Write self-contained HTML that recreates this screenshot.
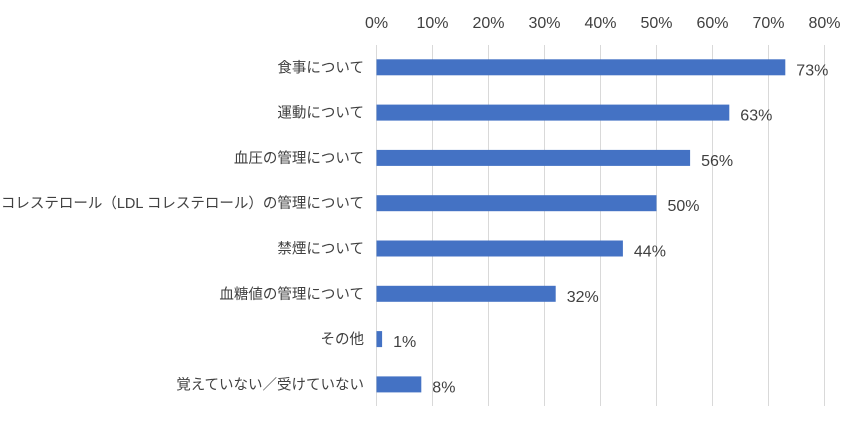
<!DOCTYPE html>
<html><head><meta charset="utf-8"><style>
body{margin:0;background:#fff;}
svg text{font-family:"Liberation Sans","Noto Sans CJK JP",sans-serif;fill:#404040;}
</style></head><body>
<svg id="chart" width="865" height="427" xmlns="http://www.w3.org/2000/svg"></svg>
<script>
const categories=["食事について","運動について","血圧の管理について","コレステロール（LDL コレステロール）の管理について","禁煙について","血糖値の管理について","その他","覚えていない／受けていない"];
const values=[73,63,56,50,44,32,1,8];
const tickLabels=["0%","10%","20%","30%","40%","50%","60%","70%","80%"];
const tickValues=[0,10,20,30,40,50,60,70,80];
const svg=document.getElementById('chart');
const NS="http://www.w3.org/2000/svg";
const x=v=>376.5+v*5.6;
const rowY=i=>67.3+i*45.3;
function mk(t,a){const e=document.createElementNS(NS,t);for(const k in a)e.setAttribute(k,a[k]);svg.appendChild(e);return e;}
tickValues.forEach((v,i)=>{
  const g=mk('line',{x1:x(v),x2:x(v),y1:45,y2:406,stroke:'#d9d9d9','stroke-width':1});
  
  
  const t=mk('text',{x:x(v),y:28,'text-anchor':'middle','font-size':16,fill:'#595959'});
  t.textContent=tickLabels[i];
  
  
});
categories.forEach((c,i)=>{
  const y=rowY(i);
  const l=mk('text',{x:364,y:y+5,'text-anchor':'end','font-size':14.5});
  l.textContent=c;
  
  
  const b=mk('rect',{x:x(0),y:y-8,width:x(values[i])-x(0),height:16,fill:'#4472c4'});
  
  
  const v=mk('text',{x:x(values[i])+11,y:y+8,'font-size':16});
  v.textContent=values[i]+'%';
  
  
});
</script>
</body></html>
